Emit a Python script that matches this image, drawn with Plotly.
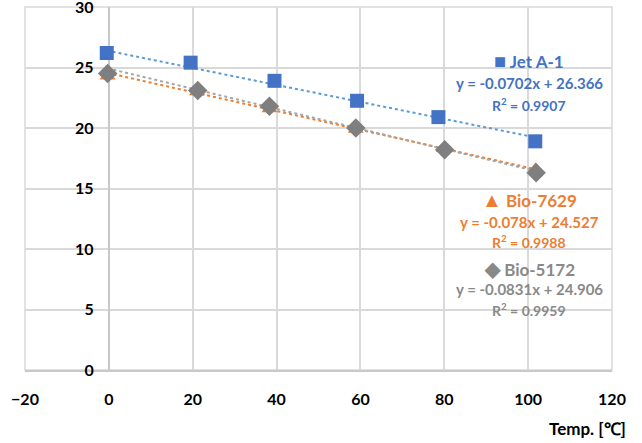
import plotly.graph_objects as go

# Data
jet_x = [-0.5, 19.5, 39.5, 59.2, 78.6, 101.7]
jet_y = [26.2, 25.4, 23.9, 22.25, 20.9, 18.9]
b7629_x = [-0.3, 21.0, 38.3, 58.9, 79.9, 101.8]
b7629_y = [24.3, 23.0, 21.6, 19.9, 18.3, 16.6]
b5172_x = [-0.3, 21.2, 38.3, 58.9, 80.1, 101.9]
b5172_y = [24.5, 23.1, 21.8, 20.0, 18.2, 16.3]

names = ["Jet A-1", "Bio-7629", "Bio-5172"]
slopes = [-0.0702, -0.078, -0.0831]
intercepts = [26.366, 24.527, 24.906]
r2 = ["0.9907", "0.9988", "0.9959"]

x_ticks = [-20, 0, 20, 40, 60, 80, 100, 120]
y_ticks = [0, 5, 10, 15, 20, 25, 30]

FONT = "Lato"
marker_colors = ["#4472C4", "#ED7D31", "#7F7F7F"]
line_colors = ["#5B9BD5", "#ED7D31", "#A5A5A5"]
text_colors = ["#4472C4", "#ED7D31", "#898989"]
symbols = ["square", "triangle-up", "diamond"]
sizes = [14, 14, 15]
icons = ["\u25A0", "\u25B2", "\u25C6"]

series = [(jet_x, jet_y), (b7629_x, b7629_y), (b5172_x, b5172_y)]

fig = go.Figure()

for i, (xs, ys) in enumerate(series):
    x0, x1 = min(xs), max(xs)
    fig.add_trace(go.Scatter(
        x=[x0, x1],
        y=[slopes[i] * x0 + intercepts[i], slopes[i] * x1 + intercepts[i]],
        mode="lines",
        line=dict(color=line_colors[i], width=2, dash="dot"),
        showlegend=False, hoverinfo="skip"))

for i, (xs, ys) in enumerate(series):
    fig.add_trace(go.Scatter(
        x=xs, y=ys, mode="markers", name=names[i],
        marker=dict(symbol=symbols[i], size=sizes[i], color=marker_colors[i]),
        showlegend=False))

label_pos = [(100.3, 25.6, 23.74, 21.98), (100.3, 14.1, 12.25, 10.6), (100.3, 8.4, 6.67, 4.96)]
for i in range(3):
    xa, yl, ye, yr = label_pos[i]
    fig.add_annotation(x=xa, y=yl, xref="x", yref="y", showarrow=False,
                       text=f"<span style='font-size:20px'>{icons[i]}</span> {names[i]}",
                       font=dict(family=FONT, size=17, color=text_colors[i], weight="bold"))
    sign = "+" if intercepts[i] >= 0 else "-"
    fig.add_annotation(x=xa, y=ye, xref="x", yref="y", showarrow=False,
                       text=f"y = {slopes[i]}x {sign} {abs(intercepts[i])}",
                       font=dict(family=FONT, size=15, color=text_colors[i], weight="bold"))
    fig.add_annotation(x=xa, y=yr, xref="x", yref="y", showarrow=False,
                       text=f"R<sup>2</sup> = {r2[i]}",
                       font=dict(family=FONT, size=14, color=text_colors[i], weight="bold"))

fig.add_annotation(x=1.028, y=-0.16, xref="paper", yref="paper", showarrow=False,
                   xanchor="right", yanchor="middle", text="Temp. [\u2103]",
                   font=dict(family=FONT, size=17, color="#000000", weight="bold"))

# plot-area border (grid lines at the range ends)
fig.add_shape(type="rect", xref="paper", yref="paper", x0=0, y0=0, x1=1, y1=1,
              line=dict(color="#D9D9D9", width=1.5), layer="below")

ml, mr, mt, mb = 25, 30, 7, 73
W, H = 642, 443
frac0 = 20 / 140

fig.update_layout(
    width=W, height=H,
    margin=dict(l=ml, r=mr, t=mt, b=mb, autoexpand=False),
    paper_bgcolor="white", plot_bgcolor="white",
    font=dict(family=FONT, size=15, color="#000000"),
    xaxis=dict(range=[-20, 120], tickvals=x_ticks, showgrid=True, gridcolor="#D9D9D9",
               gridwidth=1.5, zeroline=True, zerolinecolor="#C8C8C8", zerolinewidth=2,
               showline=True, linecolor="#C8C8C8", linewidth=2, automargin=False,
               ticks="outside", ticklen=14, tickcolor="rgba(0,0,0,0)",
               tickfont=dict(family=FONT, size=16, color="#000", weight="bold"),
               mirror=False),
    yaxis=dict(range=[0, 30.001], tickvals=y_ticks, showgrid=True, gridcolor="#D9D9D9",
               gridwidth=1.5, zeroline=False, showline=False, automargin=False,
               anchor="free", position=frac0, ticklabeloverflow="allow",
               ticks="outside", ticklen=12, tickcolor="rgba(0,0,0,0)",
               tickfont=dict(family=FONT, size=16, color="#000", weight="bold")),
)

fig.write_html("out.html", config={"displayModeBar": False},
               post_script="document.body.style.margin='0';document.body.style.padding='0';")
